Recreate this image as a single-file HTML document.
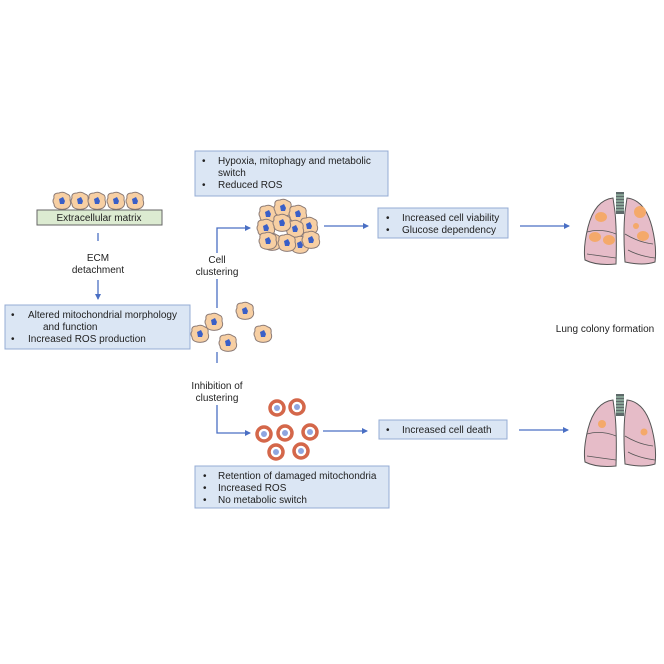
<!DOCTYPE html>
<html><head><style>
html,body{margin:0;padding:0;background:#fff;}
svg{display:block;font-family:"Liberation Sans",sans-serif;}
</style></head><body>
<svg width="664" height="664" viewBox="0 0 664 664" xmlns="http://www.w3.org/2000/svg">
<defs>
<marker id="ah" markerWidth="6" markerHeight="6" refX="5" refY="3" orient="auto" markerUnits="userSpaceOnUse">
<path d="M0,0 L6,3 L0,6 z" fill="#4a6fc4"/></marker>
<g id="cell">
<path d="M-8,-3 Q-9,-8 -3,-8 Q1,-10 5,-7 Q9,-6 8,-1 Q10,4 6,7 Q2,9 -3,8 Q-8,7 -8,3 Q-10,0 -8,-3z" fill="#f7cfa3" stroke="#8c7b76" stroke-width="1"/>
<path d="M-3,-2 L1,-4 L3,0 L2,3 L-2,3 z" fill="#3a5fc7"/>
</g>
<g id="rcell"><circle r="7" fill="#fff" stroke="#d4674a" stroke-width="3.5"/><circle r="3" fill="#8fa6e0"/></g>
<g id="lung">
<rect x="33" y="0" width="8" height="22" fill="#5e6a6a"/>
<path d="M33,3h8M33,6h8M33,9h8M33,12h8M33,15h8M33,18h8" stroke="#cfd" stroke-width="0.8"/>
<path d="M30,6 Q12,8 5,35 Q0,55 2,68 Q14,74 33,72 Q34,40 32,20 Z" fill="#e6bcc8" stroke="#555" stroke-width="1"/>
<path d="M44,6 Q62,8 69,35 Q74,55 72,70 Q60,74 42,70 Q40,40 42,20 Z" fill="#e6bcc8" stroke="#555" stroke-width="1"/>
<path d="M4,40 Q18,36 33,42 M4,62 Q18,64 33,66 M42,42 Q55,50 70,52 M45,58 Q56,64 72,66" stroke="#555" stroke-width="0.8" fill="none"/>
</g>
</defs>

<!-- top box -->
<rect x="195" y="151" width="193" height="45" fill="#dbe6f4" stroke="#94acd4"/>
<g font-size="10" fill="#222">
<text x="202" y="164">•</text><text x="218" y="164">Hypoxia, mitophagy and metabolic</text>
<text x="218" y="176">switch</text>
<text x="202" y="188">•</text><text x="218" y="188">Reduced ROS</text>
</g>

<!-- ECM cells & bar -->
<use href="#cell" x="62" y="201"/><use href="#cell" x="80" y="201"/><use href="#cell" x="97" y="201"/><use href="#cell" x="116" y="201"/><use href="#cell" x="135" y="201"/>
<rect x="37" y="210" width="125" height="15" fill="#dcebd1" stroke="#666"/>
<text x="99" y="221" font-size="10" text-anchor="middle" fill="#222">Extracellular matrix</text>

<line x1="98" y1="233" x2="98" y2="241" stroke="#4a6fc4" stroke-width="1.3"/>
<text x="98" y="261" font-size="10" text-anchor="middle" fill="#222">ECM</text>
<text x="98" y="273" font-size="10" text-anchor="middle" fill="#222">detachment</text>
<line x1="98" y1="280" x2="98" y2="299" stroke="#4a6fc4" stroke-width="1.3" marker-end="url(#ah)"/>

<!-- left box -->
<rect x="5" y="305" width="185" height="44" fill="#dbe6f4" stroke="#94acd4"/>
<g font-size="10" fill="#222">
<text x="11" y="318">•</text><text x="28" y="318">Altered mitochondrial morphology</text>
<text x="43" y="330">and function</text>
<text x="11" y="342">•</text><text x="28" y="342">Increased ROS production</text>
</g>

<!-- cell clustering path -->
<polyline points="217,308 217,228 250,228" fill="none" stroke="#4a6fc4" stroke-width="1.3" marker-end="url(#ah)"/>
<rect x="193" y="253" width="48" height="26" fill="#fff"/>
<text x="217" y="263" font-size="10" text-anchor="middle" fill="#222">Cell</text>
<text x="217" y="275" font-size="10" text-anchor="middle" fill="#222">clustering</text>

<!-- cluster -->
<use href="#cell" x="268" y="214"/><use href="#cell" x="283" y="208"/><use href="#cell" x="298" y="214"/>
<use href="#cell" x="309" y="226"/><use href="#cell" x="266" y="228"/><use href="#cell" x="295" y="229"/>
<use href="#cell" x="282" y="223"/><use href="#cell" x="272" y="242"/><use href="#cell" x="300" y="245"/>
<use href="#cell" x="287" y="243"/><use href="#cell" x="311" y="240"/><use href="#cell" x="268" y="241"/>

<line x1="324" y1="226" x2="368" y2="226" stroke="#4a6fc4" stroke-width="1.3" marker-end="url(#ah)"/>
<rect x="378" y="208" width="130" height="30" fill="#dbe6f4" stroke="#94acd4"/>
<g font-size="10" fill="#222">
<text x="386" y="221">•</text><text x="402" y="221">Increased cell viability</text>
<text x="386" y="233">•</text><text x="402" y="233">Glucose dependency</text>
</g>
<line x1="520" y1="226" x2="569" y2="226" stroke="#4a6fc4" stroke-width="1.3" marker-end="url(#ah)"/>

<g transform="translate(583,192)">
<use href="#lung"/>
<ellipse cx="18" cy="25" rx="6" ry="5" fill="#f4a96a"/><ellipse cx="12" cy="45" rx="6" ry="5" fill="#f4a96a"/>
<ellipse cx="26" cy="48" rx="6" ry="5" fill="#f4a96a"/><ellipse cx="57" cy="20" rx="6" ry="6" fill="#f4a96a"/>
<ellipse cx="60" cy="44" rx="6" ry="5" fill="#f4a96a"/><ellipse cx="53" cy="34" rx="3" ry="3" fill="#f4a96a"/>
</g>
<text x="605" y="332" font-size="10" text-anchor="middle" fill="#222">Lung colony formation</text>

<!-- scattered cells -->
<use href="#cell" x="200" y="334"/><use href="#cell" x="214" y="322"/><use href="#cell" x="228" y="343"/><use href="#cell" x="245" y="311"/><use href="#cell" x="263" y="334"/>

<!-- inhibition path -->
<line x1="217" y1="352" x2="217" y2="363" stroke="#4a6fc4" stroke-width="1.3"/>
<text x="217" y="389" font-size="10" text-anchor="middle" fill="#222">Inhibition of</text>
<text x="217" y="401" font-size="10" text-anchor="middle" fill="#222">clustering</text>
<polyline points="217,405 217,433 250,433" fill="none" stroke="#4a6fc4" stroke-width="1.3" marker-end="url(#ah)"/>

<use href="#rcell" x="277" y="408"/><use href="#rcell" x="297" y="407"/>
<use href="#rcell" x="264" y="434"/><use href="#rcell" x="285" y="433"/><use href="#rcell" x="310" y="432"/>
<use href="#rcell" x="276" y="452"/><use href="#rcell" x="301" y="451"/>

<line x1="323" y1="431" x2="367" y2="431" stroke="#4a6fc4" stroke-width="1.3" marker-end="url(#ah)"/>
<rect x="379" y="420" width="128" height="19" fill="#dbe6f4" stroke="#94acd4"/>
<g font-size="10" fill="#222"><text x="386" y="433">•</text><text x="402" y="433">Increased cell death</text></g>
<line x1="519" y1="430" x2="568" y2="430" stroke="#4a6fc4" stroke-width="1.3" marker-end="url(#ah)"/>

<g transform="translate(583,394)">
<use href="#lung"/>
<circle cx="19" cy="30" r="4" fill="#f4a96a"/><circle cx="61" cy="38" r="3.5" fill="#f4a96a"/>
</g>

<!-- bottom box -->
<rect x="195" y="466" width="194" height="42" fill="#dbe6f4" stroke="#94acd4"/>
<g font-size="10" fill="#222">
<text x="203" y="479">•</text><text x="218" y="479">Retention of damaged mitochondria</text>
<text x="203" y="491">•</text><text x="218" y="491">Increased ROS</text>
<text x="203" y="503">•</text><text x="218" y="503">No metabolic switch</text>
</g>
</svg>
</body></html>
